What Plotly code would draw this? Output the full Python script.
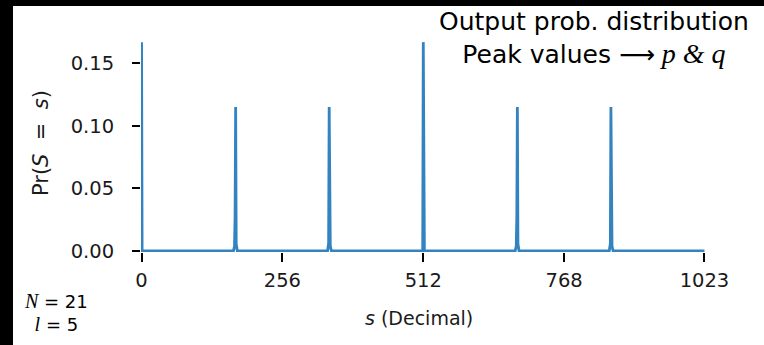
import plotly.graph_objects as go

# ---- data ----
s_values = [0, 1, 167, 169, 170, 171, 172, 174, 338, 340, 341, 342, 343, 345,
            510, 511, 512, 513, 514, 679, 681, 682, 683, 684, 686,
            850, 852, 853, 854, 855, 857, 1023]
probabilities = [0.1667, 0.0,
                 0.0, 0.004, 0.028, 0.115, 0.006, 0.0,
                 0.0, 0.006, 0.115, 0.028, 0.004, 0.0,
                 0.0, 0.0, 0.1667, 0.0, 0.0,
                 0.0, 0.004, 0.028, 0.115, 0.006, 0.0,
                 0.0, 0.006, 0.115, 0.028, 0.004, 0.0, 0.0]
x_tick_vals = [0, 256, 512, 768, 1023]
x_tick_text = ["0", "256", "512", "768", "1023"]
y_tick_vals = [0.0, 0.05, 0.10, 0.15]
y_tick_text = ["0.00", "0.05", "0.10", "0.15"]

W, H = 764, 345
L, R, T, B = 141, 59, 42, 93
PW, PH = W - L - R, H - T - B


def px(x):
    return (x - L) / PW


def py(y):
    return (H - B - y) / PH


fig = go.Figure()
fig.add_trace(go.Scatter(
    x=s_values, y=probabilities, mode="lines",
    line=dict(color="#3283c0", width=2.8),
    hoverinfo="x+y", showlegend=False,
))

tick_font = dict(family="DejaVu Sans", size=19.5, color="#1a1a1a")
fig.update_layout(
    width=W, height=H,
    margin=dict(l=L, r=R, t=T, b=B, pad=0, autoexpand=False),
    paper_bgcolor="white", plot_bgcolor="white",
    xaxis=dict(range=[-1, 1024], tickmode="array", tickvals=x_tick_vals,
               ticktext=x_tick_text, ticks="outside", ticklen=9, tickwidth=2,
               tickcolor="black", showgrid=False, zeroline=False,
               showline=False, tickfont=tick_font, ticklabelstandoff=2,
               automargin=False),
    yaxis=dict(range=[-0.0008, 0.1668], tickmode="array", tickvals=y_tick_vals,
               ticktext=y_tick_text, ticks="outside", ticklen=8, tickwidth=2,
               tickcolor="black", showgrid=False, zeroline=False,
               showline=False, tickfont=tick_font, ticklabelstandoff=14,
               automargin=False),
)

# black frame edges from the original screenshot
fig.add_shape(type="rect", xref="paper", yref="paper",
              x0=px(0), x1=px(13), y0=py(H), y1=py(0),
              fillcolor="black", line=dict(width=0), layer="above")
fig.add_shape(type="rect", xref="paper", yref="paper",
              x0=px(0), x1=px(W), y0=py(6), y1=py(0),
              fillcolor="black", line=dict(width=0), layer="above")

label_font = dict(family="DejaVu Sans", size=19, color="#1a1a1a")
fig.add_annotation(text="<i>s</i> (Decimal)", xref="paper", yref="paper",
                   x=px(419), y=py(318), showarrow=False, font=label_font,
                   xanchor="center", yanchor="middle")
fig.add_annotation(text="Pr(<i>S</i>&nbsp;&nbsp;=&nbsp;&nbsp;<i>s</i>)",
                   xref="paper", yref="paper",
                   x=px(41), y=py(143), showarrow=False,
                   font=dict(family="DejaVu Sans", size=21, color="#1a1a1a"),
                   textangle=-90, xanchor="center", yanchor="middle")

note_font = dict(family="DejaVu Sans", size=25, color="black")
serif = "font-family:'Liberation Serif';font-size:28px"
fig.add_annotation(
    text=("Output prob. distribution<br>"
          f"Peak values ⟶<span style=\"{serif}\"> <i>p</i> <i>&amp;</i> <i>q</i></span>"),
    xref="paper", yref="paper", x=px(594), y=py(38), showarrow=False,
    font=note_font, xanchor="center", yanchor="middle", align="center")

small_font = dict(family="DejaVu Sans", size=18, color="black")
fig.add_annotation(
    text=(f"<span style=\"font-family:'Liberation Serif';font-size:20px\"><i>N</i></span> = 21<br>"
          f"<span style=\"font-family:'Liberation Serif';font-size:20px\"><i>l</i></span> = 5"),
    xref="paper", yref="paper", x=px(56), y=py(312), showarrow=False,
    font=small_font, xanchor="center", yanchor="middle", align="center")

fig.write_html("out.html",
               config={"displayModeBar": False},
               post_script="document.body.style.margin='0px';"
                           "document.body.style.overflow='hidden';")
